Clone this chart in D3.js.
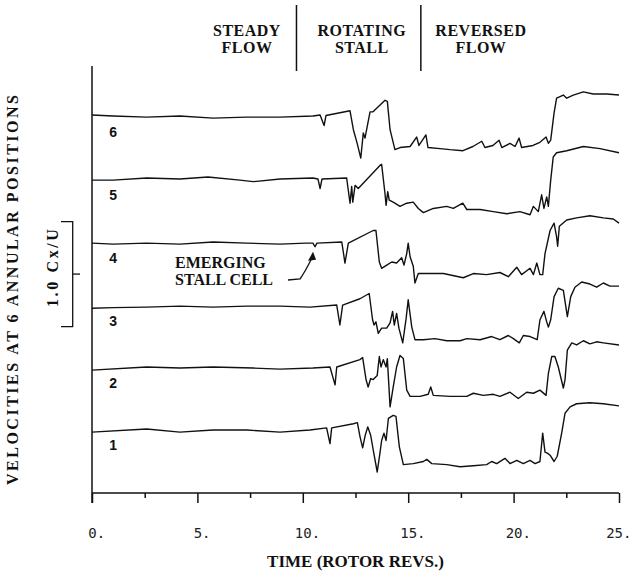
<!DOCTYPE html>
<html lang="en">
<head>
<meta charset="UTF-8">
<title>Velocities at 6 annular positions</title>
<script src="https://cdn.jsdelivr.net/npm/d3@7"></script>
<style>
  body { margin: 0; background: #fff; }
  svg { display: block; }
  .trace { fill: none; stroke: #111; stroke-width: 1.4; stroke-linejoin: round; }
  .lbl { font-family: "Liberation Serif", "Times New Roman", serif; font-weight: bold; fill: #111; }
  .num { font-family: "Liberation Sans", Arial, sans-serif; font-weight: bold; font-size: 14px; fill: #111; }
  .tick text { font-family: "DejaVu Sans Mono", monospace; font-size: 14px; fill: #222; }
  .tick line, .axis-line { stroke: #111; stroke-width: 1.5; }
</style>
</head>
<body>
<div id="chart"></div>
<script>
// time in rotor revs, velocity change in Cx/U relative to each trace's steady level
const traceIds = [1, 2, 3, 4, 5, 6];
const traceOffsets = [0, 0.59, 1.18, 1.78, 2.38, 2.98];

const trace1 = [[0,-0.02],[2.59,0.01],[4.17,-0.02],[5.74,0],[7.34,0],[8.92,-0.02],[10.34,0],[11.13,0.02],[11.29,-0.13],[11.37,0.02],
  [12.4,0.06],[12.59,0.07],[12.71,-0.06],[12.84,-0.17],[12.95,-0.06],[13.08,0.03],[13.22,-0.05],[13.34,-0.19],[13.53,-0.4],[13.66,-0.22],
  [13.74,-0.1],[13.85,-0.03],[13.95,-0.1],[14.06,0.11],[14.29,0.14],[14.42,0.13],[14.58,-0.16],[14.77,-0.33],[15.24,-0.32],[15.72,-0.3],
  [15.88,-0.28],[16.12,-0.32],[16.83,-0.33],[17.46,-0.35],[18.09,-0.34],[18.72,-0.33],[18.96,-0.3],[19.2,-0.32],[19.59,-0.27],[19.83,-0.32],
  [20.15,-0.29],[20.46,-0.32],[20.78,-0.29],[21.02,-0.32],[21.25,-0.3],[21.38,-0.03],[21.49,-0.21],[21.6,-0.22],[21.73,-0.24],[21.92,-0.3],
  [22.07,-0.25],[22.28,-0.03],[22.44,0.16],[22.68,0.22],[22.99,0.25],[23.62,0.26],[24.26,0.25],[25,0.23]];

const trace2 = [[0,-0.02],[2.59,0.01],[4.17,0],[5.74,0.01],[7.64,0],[8.92,-0.01],[10.48,0],[11.29,0.01],[11.53,-0.16],[11.61,0.01],
  [12.71,0.08],[12.84,0.1],[13,-0.11],[13.1,-0.18],[13.22,-0.1],[13.34,-0.11],[13.53,-0.07],[13.63,0.11],[13.71,0.01],[13.82,0.08],
  [13.95,0.01],[14.01,0.09],[14.14,-0.37],[14.29,-0.18],[14.45,0.01],[14.61,0.12],[14.77,0.09],[14.93,-0.21],[15.09,-0.27],[15.56,-0.27],
  [15.95,-0.25],[16.07,-0.18],[16.19,-0.26],[16.98,-0.27],[17.78,-0.27],[18.09,-0.24],[18.56,-0.26],[19.04,-0.25],[19.35,-0.27],[19.83,-0.23],
  [20.22,-0.29],[20.62,-0.23],[20.94,-0.24],[21.25,-0.21],[21.54,-0.26],[21.65,-0.05],[21.81,0.11],[21.96,0.11],[22.12,0.01],[22.36,-0.19],
  [22.44,-0.11],[22.55,0.17],[22.76,0.24],[22.99,0.22],[23.31,0.26],[23.62,0.23],[23.94,0.25],[24.26,0.24],[25,0.22]];

const trace3 = [[0,-0.02],[1,-0.015],[2.59,-0.01],[4.17,0],[5.74,-0.01],[7.34,0],[8.92,0],[10.34,-0.01],[11.61,0.01],[11.76,-0.18],
  [11.89,0.01],[12.71,0.07],[13.15,0.12],[13.31,-0.13],[13.38,-0.18],[13.47,-0.15],[13.58,-0.26],[13.74,-0.21],[13.98,-0.21],[14.14,-0.16],
  [14.26,-0.05],[14.34,-0.18],[14.45,-0.07],[14.56,-0.21],[14.74,-0.35],[14.9,-0.12],[15,0.06],[15.17,-0.2],[15.32,-0.32],[15.72,-0.32],
  [16.27,-0.31],[16.83,-0.33],[17.46,-0.33],[17.78,-0.31],[18.41,-0.32],[18.96,-0.29],[19.35,-0.32],[19.75,-0.28],[19.99,-0.31],[20.27,-0.35],
  [20.46,-0.28],[20.78,-0.29],[21.12,-0.32],[21.25,-0.13],[21.44,-0.05],[21.57,-0.15],[21.65,-0.2],[21.76,-0.13],[21.92,0.09],[22.12,0.17],
  [22.36,0.15],[22.55,-0.1],[22.71,0.09],[22.91,0.18],[23.23,0.23],[23.62,0.21],[23.94,0.18],[24.26,0.22],[24.57,0.19],[25,0.19]];

const trace4 = [[0,0],[1,-0.01],[2.59,0],[4.17,-0.01],[5.74,0.01],[7.34,0],[8.92,-0.01],[10.15,0],[10.48,0],[10.58,-0.035],
  [10.67,0],[11.85,0.01],[12,-0.19],[12.16,0],[13.34,0.12],[13.47,0.12],[13.63,-0.18],[13.74,-0.24],[13.98,-0.21],[14.22,-0.18],
  [14.45,-0.19],[14.69,-0.14],[14.8,-0.21],[14.93,-0.1],[15,0],[15.09,-0.13],[15.24,-0.22],[15.32,-0.38],[15.48,-0.29],[15.88,-0.29],
  [16.67,-0.29],[17.61,-0.33],[18.09,-0.29],[18.72,-0.3],[19.35,-0.28],[19.75,-0.32],[20.15,-0.23],[20.38,-0.3],[20.78,-0.24],[20.94,-0.3],
  [21.1,-0.19],[21.25,-0.3],[21.38,-0.3],[21.49,-0.1],[21.73,0.12],[21.92,0.19],[22.04,0.06],[22.09,-0.03],[22.17,0.16],[22.52,0.22],
  [22.99,0.24],[23.62,0.26],[24.26,0.24],[24.73,0.23],[25,0.19]];

const trace5 = [[0,0],[1,0],[2.59,0.02],[4.17,0.01],[5.5,0.03],[7.02,0],[7.64,-0.015],[8.92,0.01],[10.48,0.02],[10.72,0.01],
  [10.82,-0.08],[10.91,0.01],[12.08,0.02],[12.24,-0.22],[12.32,-0.06],[12.37,-0.21],[12.48,-0.05],[12.63,-0.08],[13.66,0.14],[13.74,0.15],
  [13.9,-0.13],[13.95,-0.24],[14.03,-0.11],[14.1,-0.19],[14.29,-0.21],[14.61,-0.25],[14.93,-0.22],[15.24,-0.21],[15.48,-0.27],[15.72,-0.31],
  [16.19,-0.27],[16.83,-0.25],[17.14,-0.27],[17.59,-0.22],[17.78,-0.28],[18.41,-0.28],[19.04,-0.3],[19.67,-0.32],[20.3,-0.3],[20.78,-0.33],
  [20.94,-0.25],[21.17,-0.3],[21.33,-0.14],[21.44,-0.27],[21.57,-0.16],[21.65,-0.25],[21.76,0],[21.88,0.22],[22.04,0.26],[22.52,0.28],
  [23.31,0.32],[24.1,0.3],[25,0.26]];

const trace6 = [[0,0.02],[1,0.01],[2.59,0],[4.17,0.01],[5.74,-0.01],[7.34,0],[8.92,0],[10.48,0.01],[10.82,0.02],[11.01,-0.08],
  [11.1,0.015],[12.24,0.06],[12.4,-0.12],[12.58,-0.25],[12.75,-0.39],[12.87,-0.15],[12.95,-0.2],[13.19,0.05],[13.33,0.05],[13.9,0.16],
  [14.01,0.15],[14.14,-0.12],[14.37,-0.31],[14.61,-0.29],[15.09,-0.28],[15.4,-0.19],[15.51,-0.27],[15.84,-0.17],[15.94,-0.29],[16.51,-0.3],
  [16.98,-0.31],[17.6,-0.32],[18.07,-0.28],[18.49,-0.23],[18.64,-0.29],[19.02,-0.27],[19.31,-0.22],[19.44,-0.29],[19.83,-0.25],[20.07,-0.28],
  [20.26,-0.2],[20.38,-0.29],[20.92,-0.27],[21.25,-0.24],[21.54,-0.19],[21.65,-0.25],[21.76,-0.22],[21.92,0.04],[22.04,0.18],[22.36,0.21],
  [22.52,0.18],[22.83,0.21],[23.31,0.24],[23.78,0.22],[24.42,0.22],[25,0.21]];

const traces = [trace1, trace2, trace3, trace4, trace5, trace6];

const xTicks = [0, 5, 10, 15, 20, 25];
const xMinorTicks = [2.5, 7.5, 12.5, 17.5, 22.5];
const phaseBounds = [9.7, 15.6];
const phaseNames = [["STEADY", "FLOW"], ["ROTATING", "STALL"], ["REVERSED", "FLOW"]];
const phaseCenters = [7.35, 12.8, 18.45];
const scaleBarValue = 1.0;

const width = 631, height = 571;
const svg = d3.select("#chart").append("svg")
    .attr("width", width)
    .attr("height", height);

const x = d3.scaleLinear().domain([0, 25]).range([92, 619]);
const y = d3.scaleLinear().domain([0, 1]).range([430, 325]);
const axisY = 493;

// traces
const line = d3.line().x(d => x(d[0]));
traces.forEach((tr, i) => {
    const off = traceOffsets[i];
    svg.append("path")
        .attr("class", "trace")
        .attr("d", line.y(d => y(off + d[1]))(tr));
    svg.append("text")
        .attr("class", "num")
        .attr("x", x(1.0))
        .attr("y", y(off - 0.19))
        .attr("text-anchor", "middle")
        .text(traceIds[i]);
});

// x axis
const xAxis = svg.append("g")
    .attr("transform", `translate(0,${axisY})`)
    .call(d3.axisBottom(x).tickValues(xTicks).tickSize(10).tickSizeOuter(0)
        .tickPadding(25).tickFormat(d => d + "."));
xAxis.select(".domain").remove();
// keep the digits centred on the tick, the full stop trailing (last one pulled in)
xAxis.selectAll(".tick text").attr("dx", d => d === 25 ? "-0.05em" : "0.3em");

const xMinor = svg.append("g")
    .attr("transform", `translate(0,${axisY})`)
    .call(d3.axisBottom(x).tickValues(xMinorTicks).tickSize(5).tickFormat(""));
xMinor.select(".domain").remove();

svg.append("line").attr("class", "axis-line")
    .attr("x1", x(0)).attr("x2", x(25))
    .attr("y1", axisY).attr("y2", axisY);
svg.append("line").attr("class", "axis-line")
    .attr("x1", x(0)).attr("x2", x(0))
    .attr("y1", 66).attr("y2", axisY + 10);

svg.append("text")
    .attr("class", "lbl")
    .attr("x", (x(0) + x(25)) / 2)
    .attr("y", 567)
    .attr("text-anchor", "middle")
    .style("font-size", "17px")
    .text("TIME (ROTOR REVS.)");

// y label
svg.append("text")
    .attr("class", "lbl")
    .attr("transform", "translate(18,290) rotate(-90)")
    .attr("text-anchor", "middle")
    .attr("textLength", 390)
    .attr("lengthAdjust", "spacing")
    .style("font-size", "16px")
    .text("VELOCITIES AT 6 ANNULAR POSITIONS");

// scale bar: 1.0 Cx/U
const barBottom = y(0.985), barTop = y(0.985 + scaleBarValue);
const bar = svg.append("g").attr("fill", "none").attr("stroke", "#111").attr("stroke-width", 1.3);
bar.append("path").attr("d", `M61,${barTop}H72.7V${barBottom}H61`);
bar.append("line").attr("x1", 72.7).attr("x2", 80)
    .attr("y1", (barTop + barBottom) / 2).attr("y2", (barTop + barBottom) / 2);
svg.append("text")
    .attr("class", "lbl")
    .attr("transform", `translate(58,${(barTop + barBottom) / 2 - 6}) rotate(-90)`)
    .attr("text-anchor", "middle")
    .attr("textLength", 78)
    .attr("lengthAdjust", "spacing")
    .style("font-size", "16px")
    .text(scaleBarValue.toFixed(1) + " Cx/U");

// flow regime labels
phaseBounds.forEach(b => {
    svg.append("line").attr("class", "axis-line")
        .attr("x1", x(b)).attr("x2", x(b))
        .attr("y1", 5).attr("y2", 71);
});
phaseNames.forEach((lines, i) => {
    const t = svg.append("text")
        .attr("class", "lbl")
        .attr("text-anchor", "middle")
        .style("font-size", "16px")
        .style("letter-spacing", "0.5px");
    lines.forEach((s, j) => {
        t.append("tspan").attr("x", x(phaseCenters[i])).attr("y", 36 + j * 17).text(s);
    });
});

// emerging stall cell annotation (trace 4)
const cell = trace4[9];
const ax = x(cell[0]) - 2, ay = y(traceOffsets[3] + cell[1]) + 5;
const note = svg.append("text").attr("class", "lbl").style("font-size", "16px");
note.append("tspan").attr("x", 175).attr("y", 268).text("EMERGING");
note.append("tspan").attr("x", 175).attr("y", 285).text("STALL CELL");
svg.append("path")
    .attr("fill", "none").attr("stroke", "#111").attr("stroke-width", 1.3)
    .attr("d", `M288,280 L300,279 Q305,272 ${ax - 1},${ay + 6}`);
svg.append("path")
    .attr("fill", "#111")
    .attr("d", `M${ax},${ay} L${ax - 5},${ay + 9} L${ax + 3},${ay + 8} Z`);
</script>
</body>
</html>
